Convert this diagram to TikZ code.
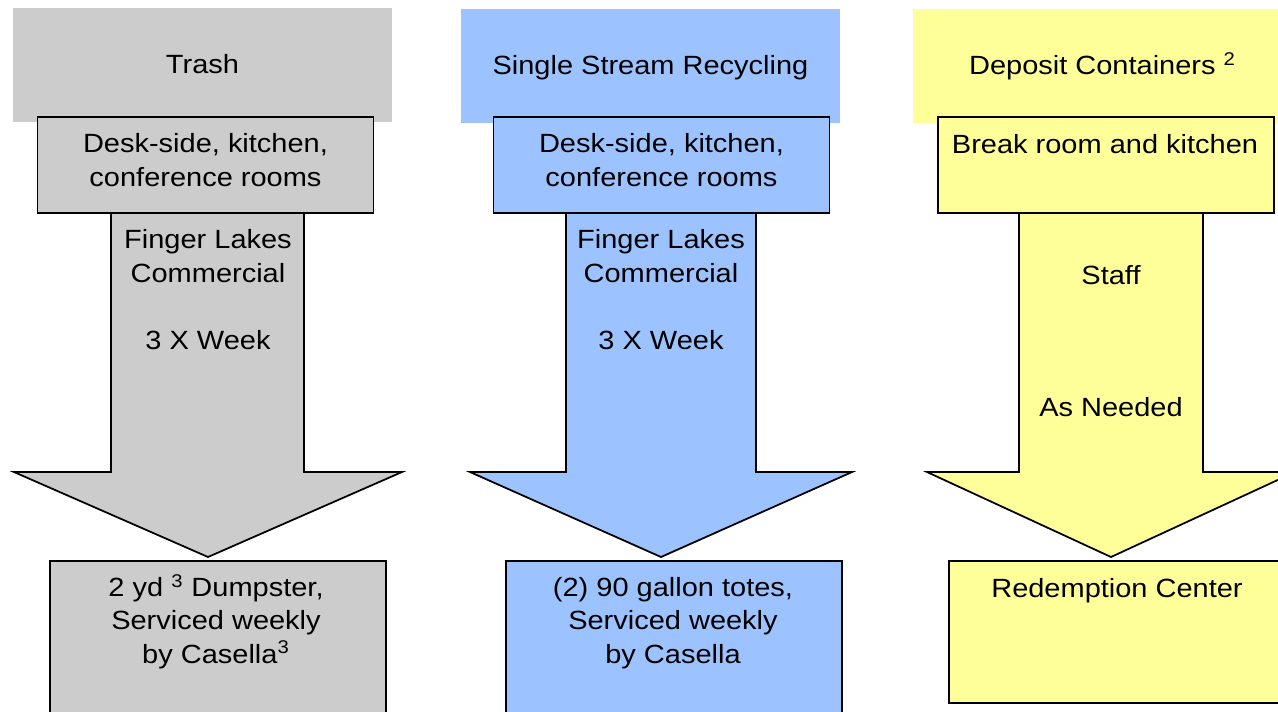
\documentclass[tikz,border=0pt]{standalone}
\usepackage{fontspec}
\setmainfont{Liberation Sans}[FakeStretch=1.1]
\usetikzlibrary{positioning}
\definecolor{trashgray}{HTML}{CCCCCC}
\definecolor{recblue}{HTML}{9CC3FF}
\definecolor{depyellow}{HTML}{FFFF99}

\begin{document}
\begin{tikzpicture}[x=0.02cm,y=-0.02cm,font=\fontsize{15pt}{19pt}\selectfont]
	\tikzset{
		hdr/.style={minimum width=7.58cm,minimum height=2.3cm,inner sep=0pt,text height=12pt,text depth=2pt},
		box/.style={draw=black,line width=1pt,minimum width=6.72cm,inner sep=0pt},
		flow/.style={draw=black,line width=1pt,line join=miter},
		lbl/.style={align=center,inner sep=0pt,anchor=base}
	}
	\useasboundingbox (0,0) rectangle (1278,711);
	\clip (0,0) rectangle (1278,711);
	% column headers
	\node[hdr,fill=trashgray] (thead) at (202.5,65) {Trash};
	\node[hdr,fill=recblue] (rhead) at (650.5,66) {Single Stream Recycling};
	\node[hdr,fill=depyellow] (dhead) at (1102.5,66) {Deposit Containers \textsuperscript{2}};
	% block arrows
	\draw[flow,fill=trashgray] (111,213) -- (111,472) -- (14,472) -- (208,557) -- (402,472) -- (304,472) -- (304,213) -- cycle;
	\draw[flow,fill=recblue] (566,213) -- (566,472) -- (470,472) -- (661,557) -- (852,472) -- (756,472) -- (756,213) -- cycle;
	\draw[flow,fill=depyellow] (1019,213) -- (1019,472) -- (927,472) -- (1111,557) -- (1295,472) -- (1203,472) -- (1203,213) -- cycle;
	% sources (base = last line)
	\node[box,fill=trashgray,minimum height=1.92cm] (tsrc) at (205.5,165) {};
	\node[box,fill=recblue,minimum height=1.92cm] (rsrc) at (661.5,165) {};
	\node[box,fill=depyellow,minimum height=1.92cm] (dsrc) at (1106,165) {};
	\node[lbl] (tsrctxt) at (205.5,186) {Desk-side, kitchen,\\conference rooms};
	\node[lbl] (rsrctxt) at (661.5,186) {Desk-side, kitchen,\\conference rooms};
	\node[lbl] (dsrctxt) at (1105,153) {Break room and kitchen};
	% haulers
	\node[lbl] (thaul) at (208,349) {Finger Lakes\\Commercial\\[19pt]3 X Week};
	\node[lbl] (rhaul) at (661,349) {Finger Lakes\\Commercial\\[19pt]3 X Week};
	\node[lbl] (dhaul) at (1111,416) {Staff\\[56pt]As Needed};
	% destinations
	\node[box,fill=trashgray,minimum height=3.2cm] (tdest) at (218,641) {};
	\node[box,fill=recblue,minimum height=3.2cm] (rdest) at (674,641) {};
	\node[box,fill=depyellow,minimum height=2.84cm] (ddest) at (1117,632) {};
	\node[lbl] (tdesttxt) at (216,663) {2 yd \textsuperscript{3} Dumpster,\\Serviced weekly\\by Casella\textsuperscript{3}};
	\node[lbl] (rdesttxt) at (673,663) {(2) 90 gallon totes,\\Serviced weekly\\by Casella};
	\node[lbl] (ddesttxt) at (1117,597) {Redemption Center};
\end{tikzpicture}
\end{document}
